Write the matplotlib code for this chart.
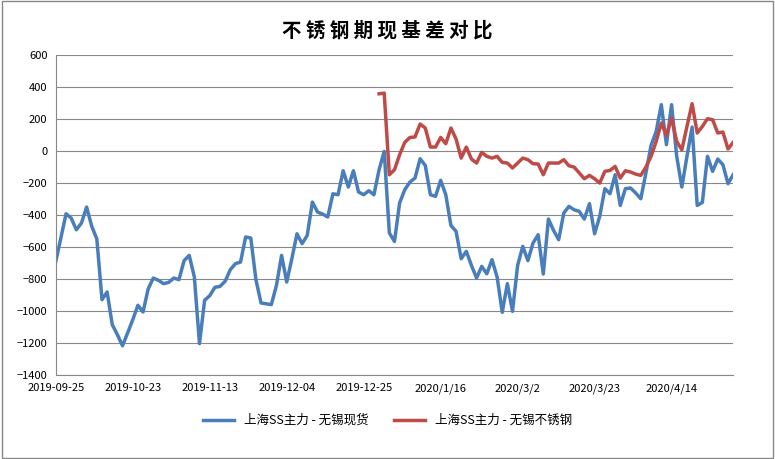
import matplotlib
matplotlib.use("Agg")
import matplotlib.pyplot as plt
import numpy as np

plt.rcParams['font.family'] = ['Noto Sans CJK SC', 'DejaVu Sans']

blue = [-690, -540, -392, -419, -492, -450, -350, -470, -550, -929, -881, -1085, -1148, -1217,
        -1137, -1054, -964, -1006, -862, -794, -808, -829, -821, -794, -804, -685, -652, -787,
        -1204, -933, -904, -852, -846, -814, -742, -704, -694, -537, -544, -804, -950, -955, -960,
        -840, -652, -819, -673, -517, -579, -527, -319, -381, -394, -412, -267, -273, -123, -225,
        -123, -256, -273, -248, -273, -117, -2, -512, -565, -325, -242, -194,
        -169, -48, -90, -273, -283, -183, -273, -465, -502, -673, -627, -715, -794, -721, -767,
        -679, -787, -1008, -829, -1002, -715, -596, -685, -575, -523, -769, -425, -496, -554,
        -387, -346, -367, -377, -425, -329, -517, -408, -235, -267, -148, -340, -235, -231, -262,
        -298, -137, 35, 123, 290, 40, 290, -33, -225, -33, 150, -340, -321, -33, -127, -50, -85,
        -204, -148]
red_vals = [358, 362, -148, -117, -23, 54, 85,
            88, 169, 144, 25, 25, 85, 46, 144, 75, -44, 25, -50, -75, -8, -33, -44, -33, -71, -75,
            -106, -75, -44, -54, -79, -81, -148, -75, -75, -75, -54, -92, -100, -137, -173, -152,
            -173, -200, -127, -121, -96, -169, -123, -131, -144, -152, -100, -33, 60, 175, 98, 206,
            60, 8, 154, 296, 113, 154, 202, 196, 113, 119, 13, 54]
red_start = len(blue) - len(red_vals)
red = [np.nan] * red_start + red_vals
tick_labels = ['2019-09-25', '2019-10-23', '2019-11-13', '2019-12-04', '2019-12-25',
               '2020/1/16', '2020/3/2', '2020/3/23', '2020/4/14']

fig = plt.figure(figsize=(7.75, 4.59), dpi=100)
fig.patches.append(plt.Rectangle((0.002, 0.002), 0.996, 0.996, transform=fig.transFigure,
                                 fill=False, edgecolor='#888888', linewidth=1))
ax = fig.add_axes([0.072, 0.183, 0.874, 0.697])
x = np.arange(len(blue))
ax.plot(x, blue, color='#4a7ebb', lw=2.5, label='上海SS主力 - 无锡现货')
ax.plot(x, red, color='#be4b48', lw=2.5, label='上海SS主力 - 无锡不锈钢')
ax.set_xlim(0, len(blue) - 1)
ax.set_ylim(-1400, 600)
ax.set_yticks(range(-1400, 601, 200))
ax.set_xticks(range(0, 15 * len(tick_labels), 15))
ax.set_xticklabels(tick_labels)
ax.tick_params(labelsize=8, length=0, pad=6)
ax.grid(axis='y', color='#888888', lw=0.8)
ax.set_axisbelow(True)
for s in ['top', 'right']:
    ax.spines[s].set_visible(False)
ax.spines['left'].set_color('#888888')
ax.spines['bottom'].set_color('#888888')
fig.suptitle('不 锈 钢 期 现 基 差 对 比', y=0.955, fontsize=14, fontweight='bold')
fig.legend(loc='lower center', ncol=2, frameon=False, fontsize=9, bbox_to_anchor=(0.5, 0.045),
           columnspacing=2, handlelength=2.5)
fig.savefig('out.png')
